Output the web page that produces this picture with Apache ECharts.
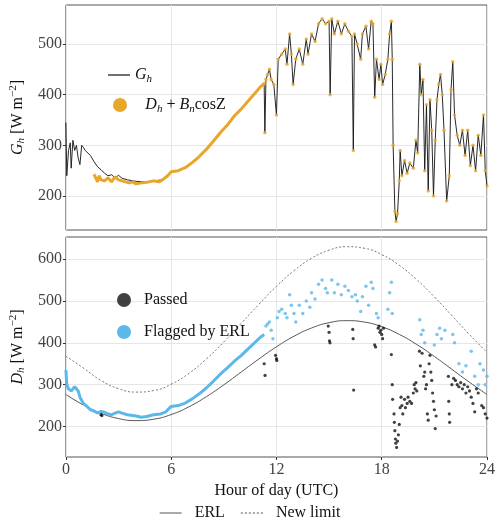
<!DOCTYPE html>
<html><head><meta charset="utf-8">
<script src="https://cdn.jsdelivr.net/npm/echarts@6/dist/echarts.min.js"></script>
<style>html,body{margin:0;padding:0;background:#fff}#c{width:500px;height:529px}</style>
</head><body><div id="c"></div>
<script>
const xTicks=[0,6,12,18,24];
const gTicks=[200,300,400,500];
const dTicks=[200,300,400,500,600];
const ghH=[0,0.05,0.15,0.25,0.3,0.4,0.5,0.6,0.7,0.8,0.9,1.0,1.1,1.2,1.4,1.6,1.8,2.0,2.2,2.4,2.6,2.8,3.0,3.2,3.5,4.0,4.5,5.0,5.5,5.8,6.0,6.4,6.8,7.2,7.6,8.0,8.4,8.8,9.2,9.6,10.0,10.4,10.8,11.1,11.3,11.34,11.4,11.5,11.6,11.7,11.85,12.0,12.1,12.3,12.5,12.6,12.75,12.85,12.95,13.1,13.3,13.5,13.7,13.8,14.0,14.2,14.4,14.6,14.8,15.0,15.06,15.15,15.3,15.5,15.7,15.9,16.1,16.3,16.38,16.45,16.6,16.8,16.9,17.1,17.25,17.4,17.5,17.6,17.7,17.85,17.95,18.05,18.2,18.35,18.45,18.55,18.6,18.65,18.75,18.82,18.9,19.0,19.05,19.15,19.3,19.45,19.6,19.8,19.95,20.05,20.17,20.25,20.35,20.45,20.55,20.65,20.75,20.85,20.95,21.05,21.15,21.25,21.35,21.45,21.55,21.7,21.85,21.95,22.05,22.15,22.3,22.45,22.6,22.75,22.9,23.05,23.2,23.35,23.5,23.65,23.8,23.9,24.0];
const ghV=[345,240,290,305,255,310,290,300,275,262,300,296,290,288,280,268,258,252,245,240,242,236,241,235,232,229,228,230,232,240,248,250,256,266,278,292,308,325,340,358,372,388,404,416,422,325,430,440,450,430,420,360,470,480,490,460,520,480,420,470,490,460,510,480,520,505,540,550,540,545,400,550,520,545,520,540,525,515,290,520,500,470,520,535,490,545,540,395,470,430,460,420,440,470,520,545,470,300,170,150,165,230,290,240,270,245,265,255,310,285,460,400,430,250,380,210,390,330,200,310,390,420,440,400,330,190,240,410,465,360,320,300,330,280,330,260,300,250,320,280,360,250,220];
const sumH=[1.6,1.7,1.8,1.9,2.0,2.2,2.4,2.6,2.8,3.0,3.2,3.4,3.6,3.8,4.0,4.3,4.6,5.0,5.3,5.5,5.8,6.0,6.4,6.8,7.2,7.6,8.0,8.4,8.8,9.2,9.6,10.0,10.4,10.8,11.1,11.3];
const sumV=[243,236,228,240,232,230,236,228,238,232,230,228,226,228,224,226,227,230,228,232,240,248,250,256,266,278,292,308,325,340,358,372,388,404,416,422];
const flagLineH=[0,0.05,0.15,0.3,0.5,0.7,0.8,1.0,1.2,1.4,1.6,1.8,2.0,2.2,2.4,2.6,2.8,3.0,3.2,3.5,4.0,4.3,4.6,5.0,5.4,5.7,6.0,6.4,6.8,7.2,7.6,8.0,8.4,8.8,9.2,9.6,10.0,10.4,10.8,11.1,11.3];
const flagLineV=[335,300,290,285,295,285,270,255,248,240,237,232,236,234,230,228,232,235,232,228,225,222,224,228,230,235,248,250,256,266,278,292,308,325,340,356,370,386,402,414,420];
const flagPtH=[11.4,11.5,11.6,11.7,11.8,12.05,12.15,12.3,12.5,12.6,12.75,12.85,13.0,13.1,13.3,13.5,13.7,13.9,14.0,14.2,14.4,14.6,14.8,14.9,15.15,15.3,15.5,15.7,15.9,16.1,16.3,16.5,16.6,16.8,16.9,17.1,17.25,17.4,17.5,17.7,17.8,18.35,18.45,18.55,18.6,20.17,20.25,20.35,20.45,21.0,21.15,21.3,21.4,21.6,22.05,22.15,22.4,22.6,22.8,23.1,23.3,23.5,23.6,23.8,23.9,24.0];
const flagPtV=[440,445,450,430,410,460,475,480,470,460,515,490,470,450,490,470,500,485,520,505,540,550,530,520,550,520,540,515,535,525,510,515,500,475,510,535,490,545,530,470,460,480,520,545,470,455,420,430,400,395,420,435,410,430,420,400,350,330,345,380,320,300,350,335,300,320];
const passH=[2.0,2.05,11.3,11.35,11.95,12.0,12.02,14.95,15.0,15.02,15.05,16.35,16.37,16.4,17.6,17.65,17.8,17.85,17.9,17.95,18.0,18.05,18.1,18.55,18.6,18.62,18.7,18.72,18.75,18.78,18.8,18.85,18.9,18.95,19.0,19.05,19.1,19.15,19.2,19.3,19.35,19.45,19.5,19.6,19.7,19.8,19.85,19.9,19.95,20.0,20.15,20.2,20.3,20.4,20.45,20.5,20.55,20.6,20.65,20.7,20.75,20.8,20.85,20.9,20.95,21.0,21.05,21.1,21.8,21.82,21.85,21.87,22.0,22.1,22.2,22.3,22.4,22.5,22.6,22.7,22.8,22.9,23.0,23.1,23.2,23.3,23.4,23.5,23.7,23.8,23.9,24.0];
const passV=[228,226,350,322,370,362,358,440,425,405,400,432,410,287,395,390,435,440,425,430,420,410,435,372,300,265,230,210,190,170,160,150,165,180,205,245,270,250,230,265,245,255,270,260,255,280,300,290,305,285,380,345,375,320,330,290,300,230,215,350,370,330,310,280,260,240,195,225,320,260,230,210,300,315,310,300,295,305,290,300,280,295,285,270,255,235,290,280,250,245,230,220];
const limH=[0,1,2,3,4,5,6,7,8,9,10,11,12,13,14,15,16,17,18,19,20,21,22,23,24];
const erlV=[276.5,251.3,231.6,218.9,214,217.3,228.5,246.8,271.1,299.6,330.4,361.4,390.5,415.7,435.4,448.1,453,449.7,438.5,420.1,395.9,367.4,336.6,305.7,276.5];
const newV=[368,339.6,310,290.5,282.2,285.8,301,326.7,361.2,402.2,447,492.2,535,572.4,602,621.5,629.8,626.2,611,585.3,550.8,509.8,465,419.8,377];

const zip=(a,b)=>a.map((x,i)=>[x,b[i]]);
const F='Liberation Serif';
const ORANGE='#E8A72A', BLUE='#5BB8EA';
const jagIdx=ghH.findIndex(h=>h>=11.3);
const ghJag=zip(ghH,ghV).slice(jagIdx);
const rich={i:{fontStyle:'italic',fontSize:16,fontFamily:F,color:'#111'},s:{fontStyle:'italic',fontSize:11,fontFamily:F,color:'#111',padding:[8,0,0,0]},t:{fontSize:16,fontFamily:F,color:'#111'},
 ap:{fontSize:11,fontFamily:F,color:'#111',padding:[0,0,8,0]}};
const grid=(top,h)=>({left:63,right:13,top:top,height:h,show:true,borderColor:'#555',borderWidth:1,backgroundColor:'#fff'});
const splitLine={show:true,lineStyle:{color:'#e6e6e6',width:1}};
const xAx=(gi,labels)=>({type:'value',gridIndex:gi,min:0,max:24,interval:6,splitLine,axisLine:{show:false},
 axisTick:{show:labels,length:3,lineStyle:{color:'#333'}},axisLabel:{show:labels,fontFamily:F,fontSize:16,color:'#444',margin:5},
 name:labels?'Hour of day (UTC)':'',nameLocation:'middle',nameGap:26,nameTextStyle:{fontFamily:F,fontSize:16,color:'#111'}});
const yAx=(gi,min,max,ticks,title)=>({type:'value',gridIndex:gi,min:min,max:max,splitLine,axisLine:{show:false},
 axisTick:{show:true,length:3,customValues:ticks,lineStyle:{color:'#333'}},
 axisLabel:{fontFamily:F,fontSize:16,color:'#444',margin:4,customValues:ticks},
 name:title,nameLocation:'middle',nameRotate:90,nameGap:38,nameTextStyle:{rich:rich}});
const chart=echarts.init(document.getElementById('c'),null,{renderer:'canvas'});
const dotted='path://M0,0h2v1h-2zM4,0h2v1h-2zM8,0h2v1h-2zM12,0h2v1h-2zM16,0h2v1h-2zM20,0h2v1h-2z';
chart.setOption({
 animation:false,
 grid:[grid(5,225),grid(237,220)],
 xAxis:[xAx(0,false),xAx(1,true)],
 yAxis:[yAx(0,133,577,gTicks,'{i|G}{s|h}{t| [W m}{ap|−2}{t|]}'),yAx(1,127,653,dTicks,'{i|D}{s|h}{t| [W m}{ap|−2}{t|]}')],
 legend:[
  {orient:'vertical',left:103,top:62,itemWidth:22,itemHeight:1.2,icon:'rect',
   data:[{name:'Gh',itemStyle:{color:'#111'}}],
   formatter:()=>'{i|G}{s|h}',textStyle:{rich:rich},selectedMode:false},
  {orient:'vertical',left:108,top:92,itemWidth:14,itemHeight:14,icon:'circle',
   data:[{name:'Dh',itemStyle:{color:ORANGE}}],
   formatter:()=>'    {i|D}{s|h}{t| + }{i|B}{s|n}{t|cosZ}',textStyle:{rich:rich},selectedMode:false},
  {orient:'vertical',left:112,top:287,itemGap:16,itemWidth:14,itemHeight:14,icon:'circle',
   data:['Passed','Flagged by ERL'],formatter:n=>'  '+n,textStyle:{fontFamily:F,fontSize:16,color:'#111'},selectedMode:false},
  {orient:'horizontal',left:'center',bottom:3,itemGap:16,itemWidth:22,itemHeight:1,
   data:[{name:'ERL',icon:'rect'},{name:'New limit',icon:dotted}],formatter:n=>'  '+n,textStyle:{fontFamily:F,fontSize:16,color:'#111'},selectedMode:false}
 ],
 series:[
  {name:'Gh',type:'line',xAxisIndex:0,yAxisIndex:0,data:zip(ghH,ghV),showSymbol:false,lineStyle:{color:'#111',width:0.9},itemStyle:{color:'#111'},z:2},
  {name:'Dh',type:'line',xAxisIndex:0,yAxisIndex:0,data:zip(sumH,sumV),showSymbol:false,lineStyle:{color:ORANGE,width:3},itemStyle:{color:ORANGE},z:3},
  {name:'Dh',type:'scatter',xAxisIndex:0,yAxisIndex:0,data:ghJag,symbolSize:3.5,itemStyle:{color:ORANGE},z:3},
  {name:'ERL',type:'line',xAxisIndex:1,yAxisIndex:1,data:zip(limH,erlV),smooth:true,showSymbol:false,lineStyle:{color:'#555',width:1},itemStyle:{color:'#555'},z:2},
  {name:'New limit',type:'line',xAxisIndex:1,yAxisIndex:1,data:zip(limH,newV),smooth:true,showSymbol:false,lineStyle:{color:'#555',width:0.8,type:[2,2]},itemStyle:{color:'#555'},z:2},
  {name:'Flagged by ERL',type:'line',xAxisIndex:1,yAxisIndex:1,data:zip(flagLineH,flagLineV),showSymbol:false,lineStyle:{color:BLUE,width:3},itemStyle:{color:BLUE},z:3},
  {name:'Flagged by ERL',type:'scatter',xAxisIndex:1,yAxisIndex:1,data:zip(flagPtH,flagPtV),symbolSize:3.5,itemStyle:{color:BLUE},z:3},
  {name:'Passed',type:'scatter',xAxisIndex:1,yAxisIndex:1,data:zip(passH,passV),symbolSize:3.2,itemStyle:{color:'#111'},z:4}
 ]
});
</script></body></html>
